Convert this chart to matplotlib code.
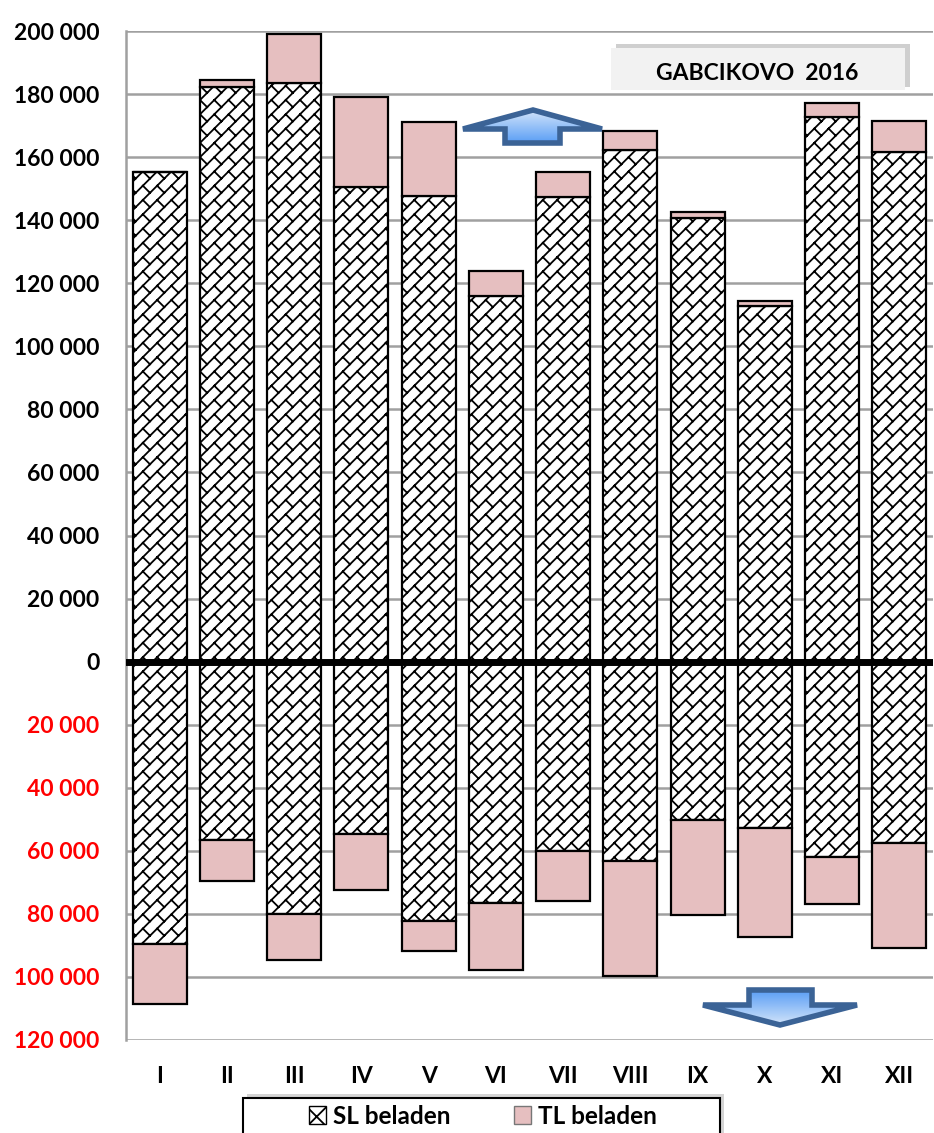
import numpy as np
import matplotlib
matplotlib.use("Agg")
import matplotlib.pyplot as plt
import matplotlib.hatch as mhatch
from matplotlib.path import Path
from matplotlib.patches import Polygon, Rectangle, Patch
from matplotlib.colors import LinearSegmentedColormap

plt.rcParams['font.family'] = ['Lato', 'DejaVu Sans']
plt.rcParams['hatch.linewidth'] = 1.3

# Monate und Werte (Tonnen)
months = ['I', 'II', 'III', 'IV', 'V', 'VI', 'VII', 'VIII', 'IX', 'X', 'XI', 'XII']
sl_up = [155300, 182200, 183400, 150600, 147800, 116100, 147200, 162400, 140600, 112800, 172600, 161600]
tl_up = [0, 2300, 15600, 28600, 23400, 7800, 8100, 5900, 1900, 1700, 4600, 9700]
sl_down = [89400, 56700, 80000, 54600, 82400, 76600, 60100, 63300, 50100, 52800, 62000, 57500]
tl_down = [19300, 12900, 14600, 17900, 9400, 21300, 15800, 36500, 30200, 34400, 14900, 33200]
y_ticks = list(range(-120000, 200001, 20000))
title_text = "GABCIKOVO  2016"
legend_labels = ["SL beladen", "TL beladen"]

PINK = '#e6bfc0'
GRID = '#a0a0a0'
W, H = 934, 1133
BRICK_N = 7   # "/"-Linien pro Hatch-Einheit


class BrickHatch(mhatch.HatchPatternBase):
    # "/"-Linien mit kurzen "\"-Querstrichen -> Ziegelmuster wie in Excel
    def __init__(self, hatch, density):
        n = BRICK_N * hatch.count('*')
        self.segs = []
        if n:
            d = 1.0 / n
            for k in range(-n - 1, n + 2):
                c = k * d
                self.segs.append((c - 0.5, -0.5, c + 1.5, 1.5))
                for j in range(-n - 1, 2 * n + 2):
                    t = j * d
                    x0, y0 = t, t - c
                    x1, y1 = t + d / 2, t - c - d / 2
                    if max(x0, x1) < -0.2 or min(x0, x1) > 1.2 or max(y0, y1) < -0.2 or min(y0, y1) > 1.2:
                        continue
                    self.segs.append((x0, y0, x1, y1))
        self.num_vertices = 2 * len(self.segs)

    def set_vertices_and_codes(self, vertices, codes):
        for i, (x0, y0, x1, y1) in enumerate(self.segs):
            vertices[2 * i] = (x0, y0)
            vertices[2 * i + 1] = (x1, y1)
            codes[2 * i] = Path.MOVETO
            codes[2 * i + 1] = Path.LINETO


# '*' (Sterne) wird hier durch das Ziegelmuster ersetzt
mhatch._hatch_types = [h for h in mhatch._hatch_types if h.__name__ != 'Stars'] + [BrickHatch]
BRICK = '*'

fig = plt.figure(figsize=(W / 100, H / 100), dpi=100)
ax = fig.add_axes([126 / W, 1 - 1040 / H, (933 - 126) / W, (1040 - 31) / H])

x = np.arange(len(months))
sl_up_a = np.array(sl_up)
sl_down_a = np.array(sl_down)

ax.bar(x, sl_up_a, 0.8, facecolor='white', edgecolor='black', hatch=BRICK, lw=1.6, zorder=2)
ax.bar(x, tl_up, 0.8, bottom=sl_up_a, facecolor=PINK, edgecolor='black', lw=1.6, zorder=2)
ax.bar(x, -sl_down_a, 0.8, facecolor='white', edgecolor='black', hatch=BRICK, lw=1.6, zorder=2)
ax.bar(x, -np.array(tl_down), 0.8, bottom=-sl_down_a, facecolor=PINK, edgecolor='black', lw=1.6, zorder=2)

ax.axhline(0, color='black', lw=5, zorder=3)

ax.set_xlim(-0.5, len(months) - 0.5)
ax.set_ylim(-120000, 200000)
ax.set_yticks(y_ticks)
ax.set_yticklabels([f"{abs(v):,}".replace(',', ' ') for v in y_ticks])
for v, lab in zip(y_ticks, ax.get_yticklabels()):
    lab.set_color('red' if v < 0 else 'black')
    lab.set_fontweight('bold')
    lab.set_fontsize(16.5)
ax.set_xticks(x)
ax.set_xticklabels(months, fontweight='bold', fontsize=16.5)
ax.tick_params(axis='y', length=0, pad=19)
ax.tick_params(axis='x', length=0, pad=19)

ax.yaxis.grid(True, color=GRID, lw=1.8)
ax.set_axisbelow(True)
for s in ['top', 'right', 'bottom']:
    ax.spines[s].set_visible(False)
ax.spines['left'].set_color(GRID)
ax.spines['left'].set_linewidth(1.8)

# Overlay in Pixelkoordinaten für Pfeile, Titel- und Legendenrahmen
ov = fig.add_axes([0, 0, 1, 1], zorder=3)
ov.axis('off')
ov.patch.set_alpha(0)


def arrow(pts, light_top):
    cols = ['#d2e4fa', '#5a9ef5'] if light_top else ['#5a9ef5', '#d2e4fa']
    cmap = LinearSegmentedColormap.from_list('g', cols)
    xs = [p[0] for p in pts]
    ys = [p[1] for p in pts]
    poly = Polygon(pts, closed=True, facecolor='none', edgecolor='#3b6396', lw=4, joinstyle='miter')
    grad = np.linspace(0, 1, 64).reshape(-1, 1)
    im = ov.imshow(grad, cmap=cmap, aspect='auto',
                   extent=(min(xs), max(xs), max(ys), min(ys)), zorder=4)
    ov.add_patch(poly)
    im.set_clip_path(poly)
    poly.set_zorder(5)


arrow([(533, 110), (602, 129), (560, 129), (560, 143), (505, 143), (505, 129), (463, 129)], True)
arrow([(749, 990), (812, 990), (812, 1005), (857, 1005), (780, 1025), (703, 1005), (749, 1005)], False)
ov.set_xlim(0, W)
ov.set_ylim(H, 0)

# Titelbox
ov.add_patch(Rectangle((616, 44), 294, 43, facecolor='#b0b0b0', edgecolor='none', alpha=0.6, zorder=4))
ov.add_patch(Rectangle((611, 48), 294, 42, facecolor='#f2f2f2', edgecolor='none', zorder=5))
ov.text(757, 73, title_text, ha='center', va='center', fontsize=16.5, fontweight='bold', zorder=6)

# Legendenrahmen
ov.add_patch(Rectangle((247, 1094), 477, 60, facecolor='#b8b8b8', edgecolor='none', alpha=0.6, zorder=4))
ov.add_patch(Rectangle((243, 1098), 477, 60, facecolor='white', edgecolor='black', lw=1.5, zorder=5))

handles = [Patch(facecolor='white', edgecolor='black', hatch='x', lw=1),
           Patch(facecolor=PINK, edgecolor='#777777', lw=1)]
fig.legend(handles, legend_labels, loc='center', bbox_to_anchor=(483 / W, 1 - 1116 / H),
           ncol=2, frameon=False, prop={'weight': 'bold', 'size': 17.5},
           handlelength=0.7, handleheight=0.7, handletextpad=0.3, columnspacing=2.6)

fig.savefig('out.png', dpi=100)
